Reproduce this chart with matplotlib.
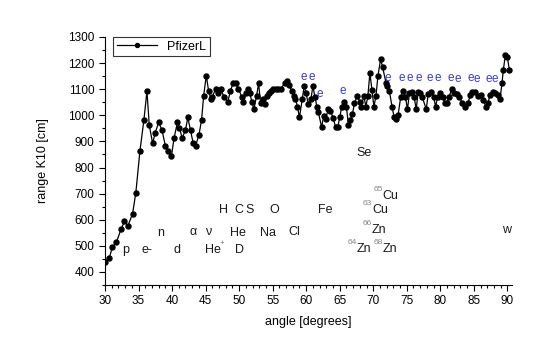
import matplotlib
matplotlib.use("Agg")
import matplotlib.pyplot as plt
from matplotlib.ticker import MultipleLocator

plt.rcParams['font.family'] = ['Liberation Sans', 'DejaVu Sans']

# ── Data ──────────────────────────────────────────────────────────────────────
angle = [30.0, 30.65, 31.1, 31.7, 32.4, 32.9, 33.4, 34.1, 34.6, 35.2,
         35.8, 36.25, 36.6, 37.1, 37.5, 38.0, 38.5, 39.0, 39.4, 39.9,
         40.3, 40.8, 41.1, 41.5, 42.0, 42.35, 42.75, 43.15, 43.5, 44.0,
         44.4, 44.7, 45.1, 45.45, 45.8, 46.0, 46.5, 46.9, 47.3, 47.7,
         48.3, 48.7, 49.1, 49.5, 49.9, 50.4, 50.6, 51.0, 51.3, 51.6,
         51.9, 52.2, 52.6, 52.9, 53.2, 53.5, 53.8, 54.1, 54.4, 54.7,
         55.1, 55.5, 55.8, 56.2, 56.8, 57.1, 57.4, 57.9, 58.2, 58.4,
         58.7, 59.0, 59.4, 59.7, 60.0, 60.3, 60.7, 61.0, 61.3, 61.6,
         61.8, 62.3, 62.6, 62.9, 63.3, 63.6, 64.0, 64.4, 64.7, 65.0,
         65.3, 65.6, 66.0, 66.3, 66.6, 66.9, 67.2, 67.6, 68.0, 68.2,
         68.6, 68.9, 69.2, 69.5, 69.8, 70.1, 70.4, 70.7, 71.1, 71.4,
         71.9, 72.1, 72.4, 72.8, 73.1, 73.4, 73.7, 74.1, 74.4, 74.8,
         75.1, 75.4, 75.8, 76.1, 76.4, 76.7, 77.0, 77.3, 77.9, 78.2,
         78.6, 79.0, 79.3, 79.6, 80.0, 80.4, 80.7, 81.0, 81.3, 81.7,
         82.1, 82.5, 82.8, 83.3, 83.7, 84.1, 84.5, 84.8, 85.2, 85.6,
         86.0, 86.4, 86.8, 87.1, 87.4, 87.8, 88.2, 88.6, 88.9, 89.2,
         89.4, 89.7, 90.0, 90.3]
range_k10 = [437, 455, 495, 514, 564, 594, 576, 622, 704, 862,
             982, 1092, 962, 893, 934, 973, 943, 883, 862, 843,
             913, 973, 952, 913, 943, 992, 943, 893, 883, 924,
             982, 1073, 1152, 1093, 1061, 1071, 1101, 1084, 1101, 1071,
             1052, 1093, 1123, 1123, 1101, 1071, 1052, 1084, 1102, 1084,
             1052, 1023, 1074, 1123, 1046, 1063, 1042, 1074, 1084, 1093,
             1101, 1101, 1101, 1101, 1123, 1130, 1115, 1093, 1074, 1063,
             1033, 992, 1061, 1112, 1084, 1043, 1061, 1112, 1071, 1033,
             1014, 954, 997, 987, 1024, 1017, 991, 954, 954, 992,
             1033, 1051, 1033, 963, 982, 1005, 1046, 1074, 1052, 1033,
             1074, 1033, 1074, 1163, 1097, 1033, 1074, 1151, 1215, 1184,
             1125, 1112, 1094, 1033, 995, 985, 1001, 1071, 1093, 1071,
             1023, 1084, 1090, 1071, 1023, 1090, 1084, 1071, 1023, 1082,
             1090, 1071, 1033, 1071, 1084, 1071, 1046, 1046, 1071, 1100,
             1084, 1082, 1071, 1046, 1033, 1046, 1078, 1090, 1090, 1074,
             1078, 1059, 1033, 1046, 1078, 1090, 1084, 1078, 1061, 1123,
             1174, 1231, 1222, 1174]

# blue "e" markers
e_x = [59.6, 60.9, 62.0, 65.4, 72.2, 74.3, 75.4, 76.8, 78.5, 79.6,
       81.5, 82.6, 84.6, 85.4, 87.2, 88.1]
e_y = [1148, 1148, 1082, 1093, 1142, 1142, 1142, 1142, 1142, 1142,
       1142, 1138, 1142, 1138, 1138, 1138]

# plain labels (centre positions)
lbl_text = ['H', 'C', 'S', 'O', 'Fe', 'n', 'α', 'ν', 'He', 'Na', 'Cl',
            'p', 'e-', 'd', 'D', 'Se', 'w']
lbl_x = [47.6, 50.0, 51.5, 55.2, 62.9, 38.3, 43.1, 45.4, 49.8, 54.3, 58.3,
         33.1, 36.2, 40.8, 50.1, 68.7, 89.9]
lbl_y = [637, 637, 637, 637, 637, 550, 552, 552, 550, 550, 552,
         484, 484, 484, 484, 855, 561]

# isotope labels: superscript, element, left edge of element
iso_sup = ['65', '63', '66', '64', '68', '+']
iso_el = ['Cu', 'Cu', 'Zn', 'Zn', 'Zn', 'He']
iso_x = [71.4, 69.8, 69.8, 67.5, 71.4, 44.9]
iso_y = [692, 637, 561, 488, 488, 484]
# ─────────────────────────────────────────────────────────────────────────────

fig = plt.figure(figsize=(5.43, 3.62), dpi=100)
ax = fig.add_axes([0.1934, 0.2127, 0.749, 0.6851])

ax.plot(angle, range_k10, color='black', linewidth=0.9, marker='o',
        markersize=3.6, label='PfizerL')

txt_col = '#1a1a1a'
for x, y in zip(e_x, e_y):
    ax.text(x, y, 'e', color='#3a3ac8', fontsize=8.5, ha='center', va='center')
for t, x, y in zip(lbl_text, lbl_x, lbl_y):
    ax.text(x, y, t, color=txt_col, fontsize=9, ha='center', va='center')
for s, el, x, y in zip(iso_sup, iso_el, iso_x, iso_y):
    ax.text(x, y, el, color=txt_col, fontsize=9, ha='left', va='center')
    if el == 'He':
        ax.text(x + 2.15, y + 26, s, color='#666666', fontsize=5.5,
                ha='left', va='center')
    else:
        ax.text(x, y + 25, s, color='#888888', fontsize=6,
                ha='right', va='center')

ax.set_xlim(30, 90.65)
ax.set_ylim(350, 1300)
ax.xaxis.set_major_locator(MultipleLocator(5))
ax.xaxis.set_minor_locator(MultipleLocator(1))
ax.yaxis.set_major_locator(MultipleLocator(100))
ax.yaxis.set_minor_locator(MultipleLocator(50))
ax.tick_params(which='both', direction='out', labelsize=8.5, width=0.8,
               colors='black')
ax.tick_params(which='major', length=4)
ax.tick_params(which='minor', length=2.5)
ax.set_yticks(range(400, 1301, 100))

ax.spines['top'].set_visible(False)
ax.spines['right'].set_visible(False)

ax.set_xlabel('angle [degrees]', fontsize=9, labelpad=6)
ax.set_ylabel('range K10 [cm]', fontsize=9, labelpad=14)

leg = ax.legend(loc='upper left', bbox_to_anchor=(0.02, 1.0), fontsize=9,
                frameon=True, fancybox=False, handlelength=3.2,
                borderpad=0.3, borderaxespad=0.0, markerscale=0.8)
leg.get_frame().set_edgecolor('black')
leg.get_frame().set_linewidth(0.8)

fig.savefig('out.png', dpi=100)
